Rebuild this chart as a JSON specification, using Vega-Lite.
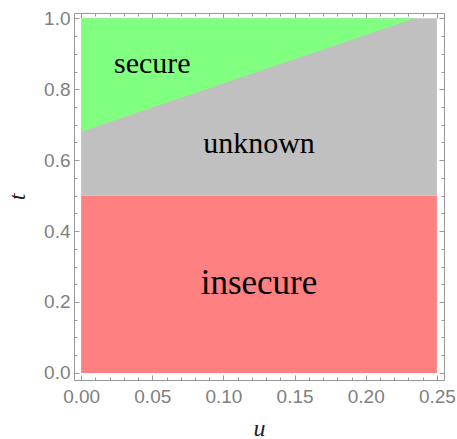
{
  "$schema": "https://vega.github.io/schema/vega-lite/v6.json",
  "autosize": "none",
  "padding": {"left": 74, "top": 13, "right": 13, "bottom": 59},
  "width": 370,
  "height": 367,
  "background": "white",
  "config": {
    "view": {"stroke": null},
    "axis": {
      "grid": false,
      "domainColor": "#999999",
      "domainWidth": 1,
      "tickColor": "#999999",
      "tickWidth": 1,
      "labelFont": "Liberation Sans",
      "labelFontSize": 19,
      "labelColor": "#808080",
      "titleFont": "Liberation Serif",
      "titleFontStyle": "italic",
      "titleFontWeight": "normal",
      "titleFontSize": 24,
      "titleColor": "#222222"
    }
  },
  "datasets": {
    "rects": [
      {"region": "insecure", "u0": 0, "u1": 0.25, "t0": 0, "t1": 0.5},
      {"region": "unknown", "u0": 0, "u1": 0.25, "t0": 0.5, "t1": 1}
    ],
    "secure": [
      {"region": "secure", "u": 0, "lo": 0.68, "hi": 1},
      {"region": "secure", "u": 0.2346, "lo": 1, "hi": 1}
    ],
    "labels": [
      {"label": "secure", "u": 0.05, "t": 0.846},
      {"label": "unknown", "u": 0.125, "t": 0.62},
      {"label": "insecure", "u": 0.125, "t": 0.223}
    ]
  },
  "resolve": {"axis": {"x": "independent", "y": "independent"}},
  "layer": [
    {
      "data": {"name": "rects"},
      "mark": {"type": "rect"},
      "encoding": {
        "x": {
          "field": "u0", "type": "quantitative", "title": "u",
          "scale": {"domain": [-0.005, 0.255], "nice": false, "zero": false},
          "axis": {
            "orient": "bottom",
            "values": [0,0.01,0.02,0.03,0.04,0.05,0.06,0.07,0.08,0.09,0.1,0.11,0.12,0.13,0.14,0.15,0.16,0.17,0.18,0.19,0.2,0.21,0.22,0.23,0.24,0.25],
            "labelExpr": "abs(datum.value*20 - round(datum.value*20)) < 1e-6 ? format(datum.value, '.2f') : ''",
            "tickSize": {"condition": {"test": "abs(datum.value*20 - round(datum.value*20)) < 1e-6", "value": -5}, "value": -3},
            "labelPadding": 12,
            "labelOverlap": false,
            "labelFlush": false,
            "titlePadding": 8
          }
        },
        "x2": {"field": "u1"},
        "y": {
          "field": "t0", "type": "quantitative", "title": "t",
          "scale": {"domain": [-0.02, 1.015], "nice": false, "zero": false},
          "axis": {
            "orient": "left",
            "values": [0,0.05,0.1,0.15,0.2,0.25,0.3,0.35,0.4,0.45,0.5,0.55,0.6,0.65,0.7,0.75,0.8,0.85,0.9,0.95,1],
            "labelExpr": "abs(datum.value*5 - round(datum.value*5)) < 1e-6 ? format(datum.value, '.1f') : ''",
            "tickSize": {"condition": {"test": "abs(datum.value*5 - round(datum.value*5)) < 1e-6", "value": -5}, "value": -3},
            "labelPadding": 9,
            "labelOverlap": false,
            "labelFlush": false,
            "titlePadding": 14
          }
        },
        "y2": {"field": "t1"},
        "color": {
          "field": "region", "type": "nominal", "legend": null,
          "scale": {"domain": ["insecure", "unknown", "secure"], "range": ["#FF8080", "#C0C0C0", "#80FF80"]}
        }
      }
    },
    {
      "data": {"name": "secure"},
      "mark": {"type": "area"},
      "encoding": {
        "x": {
          "field": "u", "type": "quantitative",
          "axis": {
            "orient": "top", "title": null, "labels": false,
            "values": [0,0.01,0.02,0.03,0.04,0.05,0.06,0.07,0.08,0.09,0.1,0.11,0.12,0.13,0.14,0.15,0.16,0.17,0.18,0.19,0.2,0.21,0.22,0.23,0.24,0.25],
            "tickSize": {"condition": {"test": "abs(datum.value*20 - round(datum.value*20)) < 1e-6", "value": -5}, "value": -3}
          }
        },
        "y": {
          "field": "lo", "type": "quantitative",
          "axis": {
            "orient": "right", "title": null, "labels": false,
            "values": [0,0.05,0.1,0.15,0.2,0.25,0.3,0.35,0.4,0.45,0.5,0.55,0.6,0.65,0.7,0.75,0.8,0.85,0.9,0.95,1],
            "tickSize": {"condition": {"test": "abs(datum.value*5 - round(datum.value*5)) < 1e-6", "value": -5}, "value": -3}
          }
        },
        "y2": {"field": "hi"},
        "color": {"field": "region", "type": "nominal", "legend": null}
      }
    },
    {
      "data": {"name": "labels"},
      "mark": {"type": "text", "font": "Liberation Serif", "baseline": "alphabetic", "align": "center", "color": "black"},
      "encoding": {
        "x": {"field": "u", "type": "quantitative", "axis": null},
        "y": {"field": "t", "type": "quantitative", "axis": null},
        "text": {"field": "label"},
        "size": {"condition": {"test": "datum.label === 'insecure'", "value": 35}, "value": 30}
      }
    }
  ]
}
